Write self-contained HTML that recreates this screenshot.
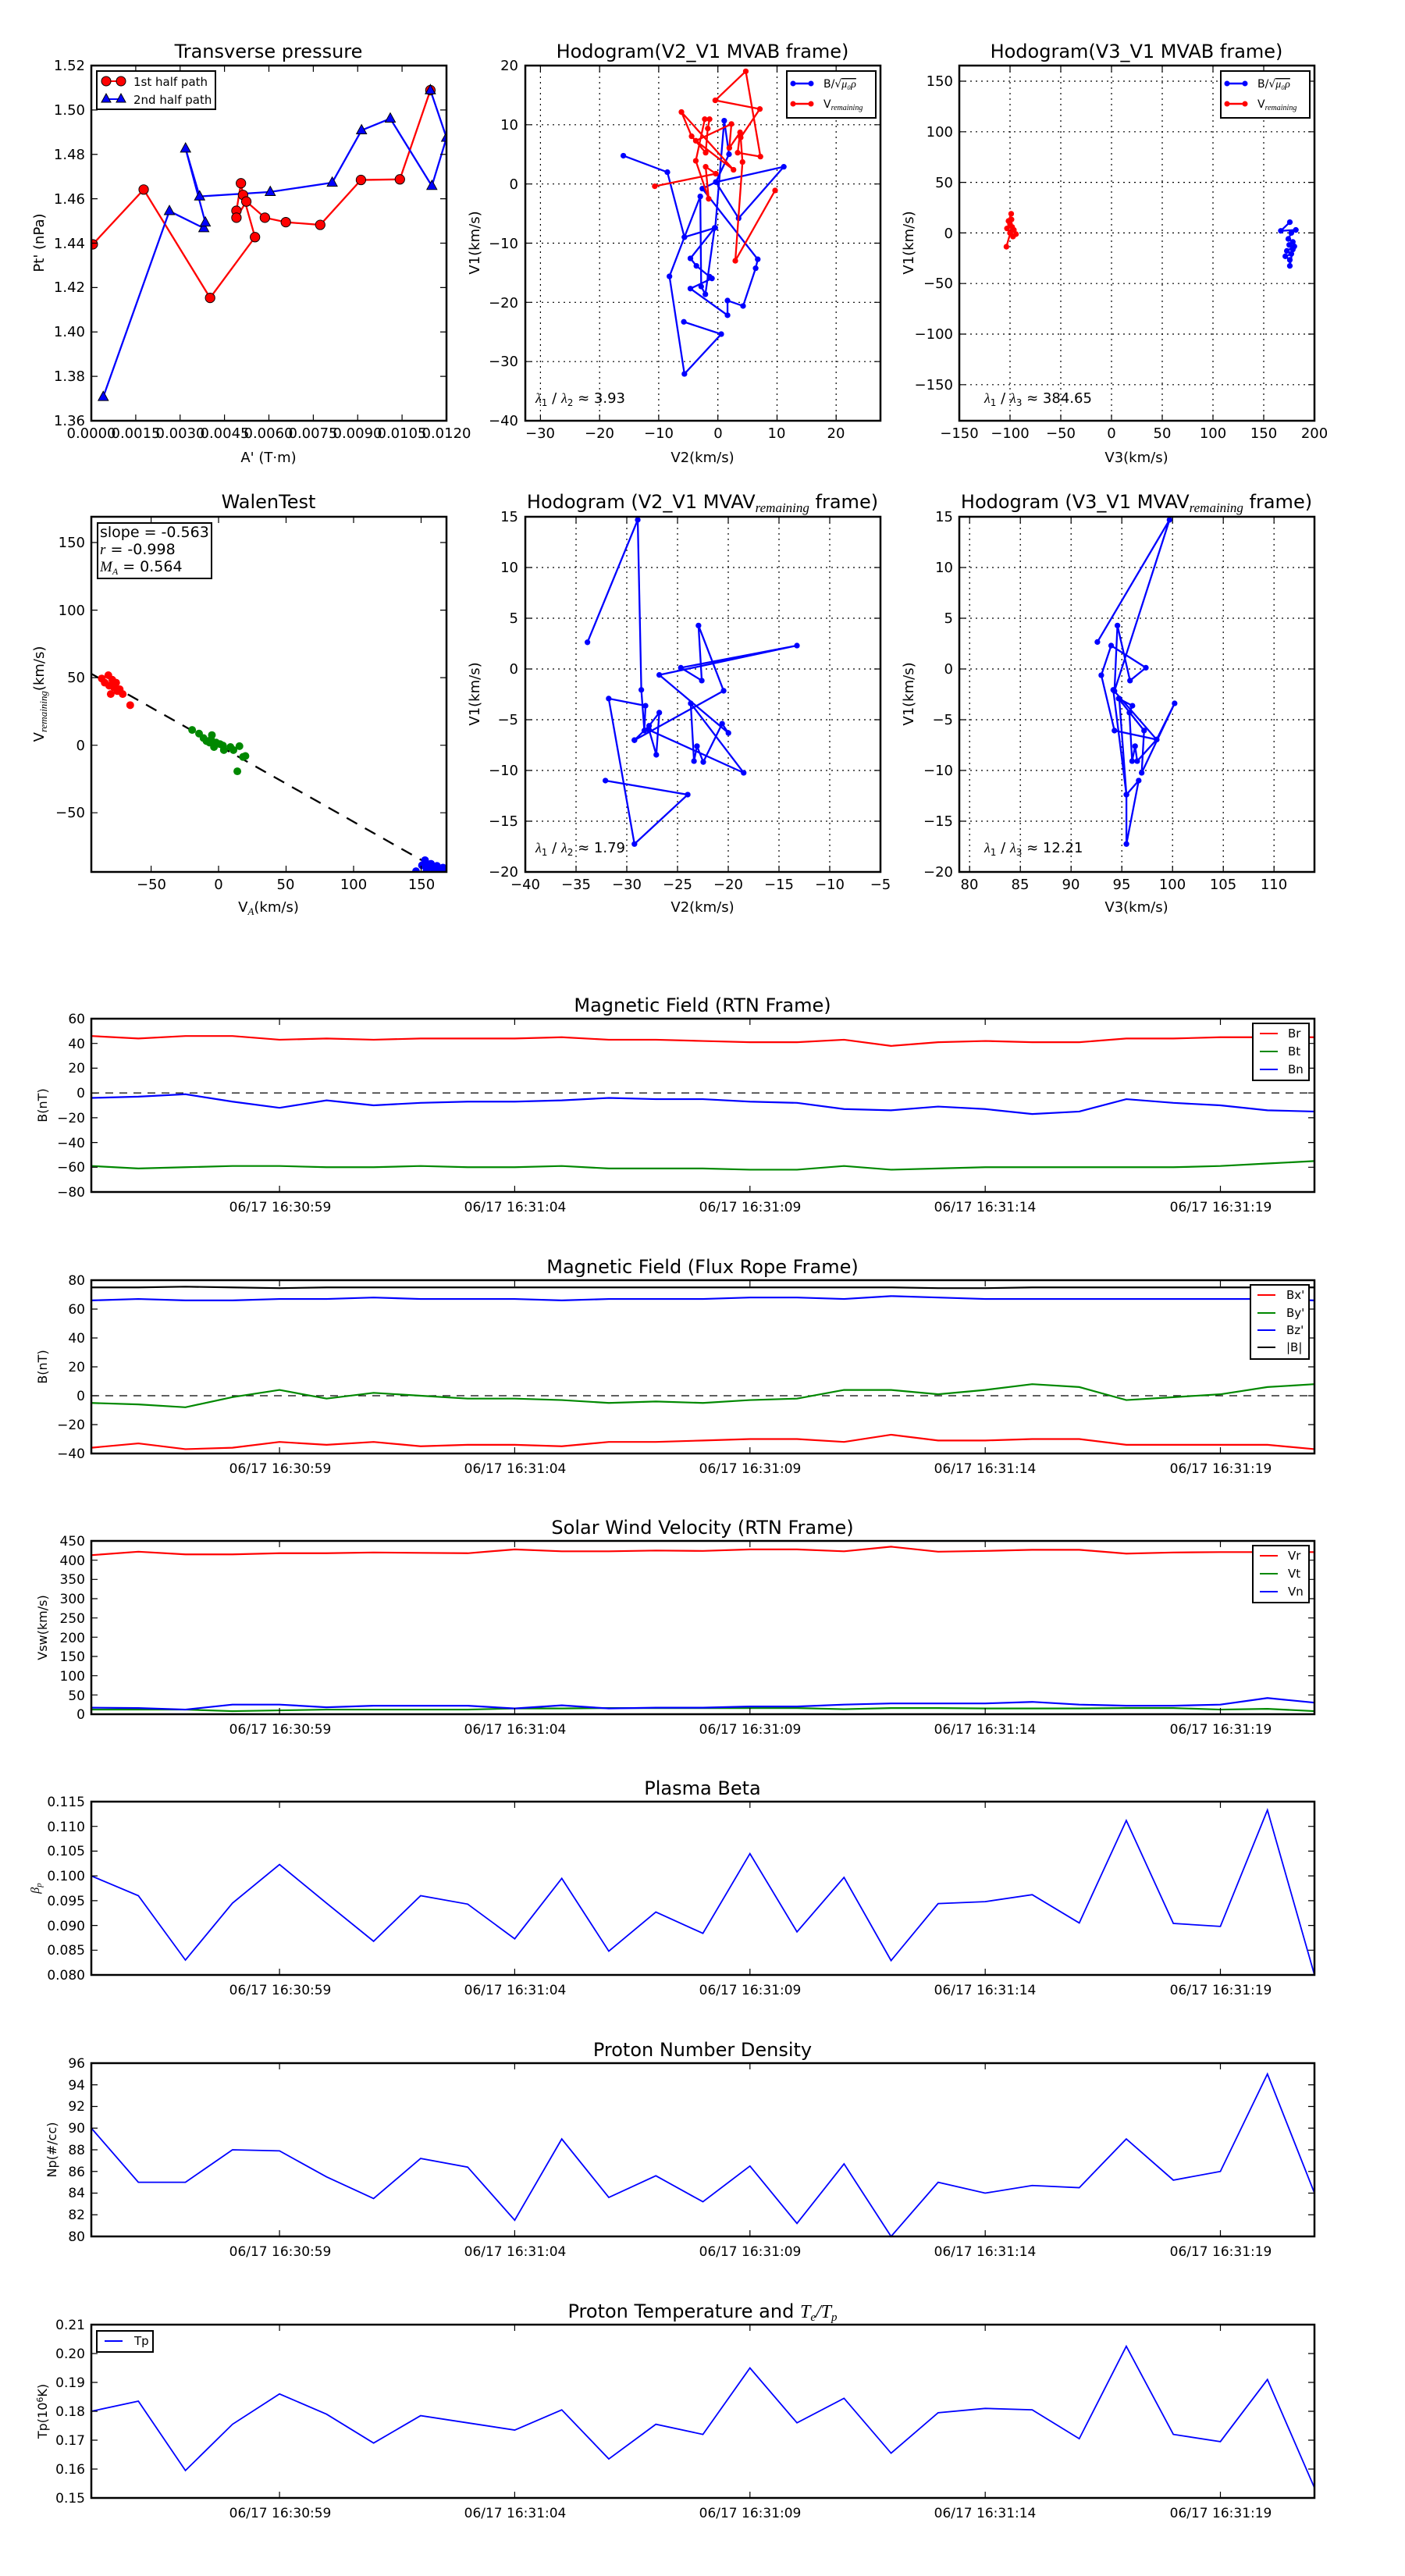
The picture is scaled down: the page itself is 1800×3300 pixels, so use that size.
<!DOCTYPE html>
<html><head><meta charset="utf-8"><style>
html,body{margin:0;padding:0;background:#fff;}
svg{display:block;font-family:"DejaVu Sans","Liberation Sans",sans-serif;}
.ns{vector-effect:non-scaling-stroke;}
</style></head><body>
<svg xmlns="http://www.w3.org/2000/svg" width="1800" height="3300" viewBox="0 0 1800 3300">
<rect width="1800" height="3300" fill="#fff"/>
<defs>
<clipPath id="c1"><rect x="117" y="84" width="455" height="455"/></clipPath>
<clipPath id="c2"><rect x="673" y="84" width="455" height="455"/></clipPath>
<clipPath id="c3"><rect x="1229" y="84" width="455" height="455"/></clipPath>
<clipPath id="c4"><rect x="117" y="662" width="455" height="455"/></clipPath>
<clipPath id="c5"><rect x="673" y="662" width="455" height="455"/></clipPath>
<clipPath id="c6"><rect x="1229" y="662" width="455" height="455"/></clipPath>
<marker id="mb" markerWidth="24" markerHeight="24" refX="12" refY="12" markerUnits="userSpaceOnUse"><circle cx="12" cy="12" r="9.5" fill="#00f"/></marker>
<marker id="mr" markerWidth="24" markerHeight="24" refX="12" refY="12" markerUnits="userSpaceOnUse"><circle cx="12" cy="12" r="9.5" fill="#f00"/></marker>
<marker id="mt" markerWidth="44" markerHeight="44" refX="22" refY="24" markerUnits="userSpaceOnUse"><polygon points="22,5 5,36 39,36" fill="#00f" stroke="#000" stroke-width="2.5"/></marker>
</defs>

<!-- grids -->
<g fill="none" stroke="#000" stroke-width="1.2" stroke-dasharray="2,5">
<path d="M692.4 84V539M768.2 84V539M843.9 84V539M919.7 84V539M995.5 84V539M1071.2 84V539M673 159.8H1128M673 235.7H1128M673 311.5H1128M673 387.3H1128M673 463.2H1128"/>
<path d="M1294 84V539M1359 84V539M1424 84V539M1489 84V539M1554 84V539M1619 84V539M1229 104H1684M1229 168.8H1684M1229 233.6H1684M1229 298.4H1684M1229 363.2H1684M1229 428H1684M1229 492.8H1684"/>
<path d="M738 662V1117M803 662V1117M868 662V1117M933 662V1117M998 662V1117M1063 662V1117M673 727H1128M673 792H1128M673 857H1128M673 922H1128M673 987H1128M673 1052H1128"/>
<path d="M1242.2 662V1117M1307.2 662V1117M1372.2 662V1117M1437.2 662V1117M1502.2 662V1117M1567.2 662V1117M1632.2 662V1117M1229 727H1684M1229 792H1684M1229 857H1684M1229 922H1684M1229 987H1684M1229 1052H1684"/>
</g>

<!-- Panel 1 -->
<g clip-path="url(#c1)"><g transform="translate(0,30) scale(0.38344)">
<polyline fill="none" stroke="#f00" stroke-width="6" points="310,738 480,555 702,917 852,714 812,573 805,534 790,626 790,649 823,595 885,649 955,664 1070,673 1206,523 1336,521 1438,223"/>
<polyline fill="none" stroke="#00f" stroke-width="6" marker-start="url(#mt)" marker-mid="url(#mt)" marker-end="url(#mt)" points="345,1248 566,627 681,684 686,665 620,418 667,578 903,563 1110,532 1208,357 1304,318 1443,543 1492,382 1438,223"/>
<g fill="#f00" stroke="#000" stroke-width="2.5">
<circle cx="310" cy="738" r="16"/><circle cx="480" cy="555" r="16"/><circle cx="702" cy="917" r="16"/><circle cx="852" cy="714" r="16"/><circle cx="812" cy="573" r="16"/><circle cx="805" cy="534" r="16"/><circle cx="790" cy="626" r="16"/><circle cx="790" cy="649" r="16"/><circle cx="823" cy="595" r="16"/><circle cx="885" cy="649" r="16"/><circle cx="955" cy="664" r="16"/><circle cx="1070" cy="673" r="16"/><circle cx="1206" cy="523" r="16"/><circle cx="1336" cy="521" r="16"/><circle cx="1438" cy="223" r="16"/></g>
<polygon points="1438,205 1422,235 1454,235" fill="#00f" stroke="#000" stroke-width="2.5"/>
</g></g>

<!-- Panel 2 -->
<g clip-path="url(#c2)"><g transform="translate(600,30) scale(0.38344)">
<polyline fill="none" stroke="#00f" stroke-width="6" marker-start="url(#mb)" marker-mid="url(#mb)" marker-end="url(#mb)" points="518,442 665,497 722,714 775,578 778,879 792,905 823,683 742,785 762,810 806,846 814,852 742,886 866,975 866,926 918,944 960,818 967,788 782,552 827,530 1054,479 903,651 827,530 871,437 855,325 825,683 722,714 672,845 722,1171 845,1038 720,997"/>
<polyline fill="none" stroke="#f00" stroke-width="6" marker-start="url(#mr)" marker-mid="url(#mr)" marker-end="url(#mr)" points="623,544 827,502 793,479 803,586 760,459 790,320 806,320 800,351 793,432 746,377 712,296 886,489 760,392 879,336 872,416 908,364 900,432 976,445 927,160 825,257 974,286 910,381 916,463 892,793 1025,558"/>
</g></g>

<!-- Panel 3 -->
<g clip-path="url(#c3)"><g transform="translate(1200,30) scale(0.38344)">
<polyline fill="none" stroke="#f00" stroke-width="6" marker-start="url(#mr)" marker-mid="url(#mr)" marker-end="url(#mr)" points="249,636 240,660 250,655 235,685 245,700 258,690 265,704 255,712 245,670 252,680 233,746"/>
<polyline fill="none" stroke="#00f" stroke-width="6" marker-start="url(#mb)" marker-mid="url(#mb)" marker-end="url(#mb)" points="1180,664 1150,693 1200,690 1185,700 1175,720 1190,730 1195,745 1170,760 1185,770 1165,778 1180,790 1180,810 1190,755 1178,740"/>
</g></g>

<!-- Walen -->
<g clip-path="url(#c4)"><g transform="translate(0,610) scale(0.38344)">
<line x1="305" y1="660" x2="1492" y2="1330" stroke="#000" stroke-width="6" stroke-dasharray="40,30"/>
<g fill="#f00"><circle cx="340" cy="676" r="13"/><circle cx="362" cy="665" r="13"/><circle cx="375" cy="680" r="13"/><circle cx="388" cy="690" r="13"/><circle cx="380" cy="705" r="13"/><circle cx="400" cy="712" r="13"/><circle cx="370" cy="728" r="13"/><circle cx="410" cy="728" r="13"/><circle cx="392" cy="718" r="13"/><circle cx="350" cy="690" r="13"/><circle cx="435" cy="765" r="13"/><circle cx="365" cy="700" r="13"/></g>
<g fill="#080"><circle cx="642" cy="848" r="13"/><circle cx="665" cy="860" r="13"/><circle cx="680" cy="875" r="13"/><circle cx="708" cy="865" r="13"/><circle cx="700" cy="890" r="13"/><circle cx="715" cy="905" r="13"/><circle cx="745" cy="900" r="13"/><circle cx="748" cy="915" r="13"/><circle cx="770" cy="905" r="13"/><circle cx="800" cy="902" r="13"/><circle cx="820" cy="935" r="13"/><circle cx="812" cy="938" r="13"/><circle cx="793" cy="986" r="13"/><circle cx="722" cy="890" r="13"/><circle cx="690" cy="885" r="13"/><circle cx="735" cy="895" r="13"/><circle cx="780" cy="915" r="13"/><circle cx="705" cy="880" r="13"/></g>
<g fill="#00f"><circle cx="1420" cy="1283" r="13"/><circle cx="1440" cy="1295" r="13"/><circle cx="1460" cy="1302" r="13"/><circle cx="1480" cy="1308" r="13"/><circle cx="1410" cy="1300" r="13"/><circle cx="1430" cy="1305" r="13"/><circle cx="1390" cy="1320" r="13"/><circle cx="1450" cy="1315" r="13"/><circle cx="1490" cy="1310" r="13"/><circle cx="1425" cy="1318" r="13"/><circle cx="1470" cy="1320" r="13"/></g>
</g></g>

<!-- Row2 P2 -->
<g clip-path="url(#c5)"><g transform="translate(600,610) scale(0.38344)">
<polyline fill="none" stroke="#00f" stroke-width="6" marker-start="url(#mb)" marker-mid="url(#mb)" marker-end="url(#mb)" points="398,555 566,146 578,714 588,850 592,767 469,743 555,1229 733,1064 458,1017"/>
<polyline fill="none" stroke="#00f" stroke-width="6" marker-start="url(#mb)" marker-mid="url(#mb)" marker-end="url(#mb)" points="555,882 604,834 638,790 628,931 604,848 920,991 743,759 754,952 764,902 785,955 848,827 869,858 638,664 1098,566 710,640 780,683 769,499 853,717 555,882"/>
</g></g>

<!-- Row2 P3 -->
<g clip-path="url(#c6)"><g transform="translate(1200,610) scale(0.38344)">
<polyline fill="none" stroke="#00f" stroke-width="6" marker-start="url(#mb)" marker-mid="url(#mb)" marker-end="url(#mb)" points="537,554 778,146 594,718 604,499 646,683 699,640 583,566 550,665 594,850 735,880 795,759 685,991 693,850 608,743 654,767 644,790 653,952 663,902 670,952 735,880 590,714 634,1064 675,1017 634,1229 634,1064 610,743"/>
</g></g>

<!-- top ticks and frames -->
<g fill="none" stroke="#000" stroke-width="1.2">
<path d="M173.9 539v-8M230.75 539v-8M287.6 539v-8M344.5 539v-8M401.4 539v-8M458.25 539v-8M515.1 539v-8M173.9 84v8M230.75 84v8M287.6 84v8M344.5 84v8M401.4 84v8M458.25 84v8M515.1 84v8M117 140.9h8M117 197.75h8M117 254.6h8M117 311.5h8M117 368.4h8M117 425.25h8M117 482.1h8M572 140.9h-8M572 197.75h-8M572 254.6h-8M572 311.5h-8M572 368.4h-8M572 425.25h-8M572 482.1h-8"/>
<path d="M692.4 539v-8M768.2 539v-8M843.9 539v-8M919.7 539v-8M995.5 539v-8M1071.2 539v-8M692.4 84v8M768.2 84v8M843.9 84v8M919.7 84v8M995.5 84v8M1071.2 84v8M673 159.8h8M673 235.7h8M673 311.5h8M673 387.3h8M673 463.2h8M1128 159.8h-8M1128 235.7h-8M1128 311.5h-8M1128 387.3h-8M1128 463.2h-8"/>
<path d="M1294 539v-8M1359 539v-8M1424 539v-8M1489 539v-8M1554 539v-8M1619 539v-8M1294 84v8M1359 84v8M1424 84v8M1489 84v8M1554 84v8M1619 84v8M1229 104h8M1229 168.8h8M1229 233.6h8M1229 298.4h8M1229 363.2h8M1229 428h8M1229 492.8h8M1684 104h-8M1684 168.8h-8M1684 233.6h-8M1684 298.4h-8M1684 363.2h-8M1684 428h-8M1684 492.8h-8"/>
<path d="M193.6 1117v-8M280 1117v-8M366.5 1117v-8M453 1117v-8M539.5 1117v-8M193.6 662v8M280 662v8M366.5 662v8M453 662v8M539.5 662v8M117 695h8M117 781.6h8M117 868.1h8M117 954.7h8M117 1041.2h8M572 695h-8M572 781.6h-8M572 868.1h-8M572 954.7h-8M572 1041.2h-8"/>
<path d="M738 1117v-8M803 1117v-8M868 1117v-8M933 1117v-8M998 1117v-8M1063 1117v-8M738 662v8M803 662v8M868 662v8M933 662v8M998 662v8M1063 662v8M673 727h8M673 792h8M673 857h8M673 922h8M673 987h8M673 1052h8M1128 727h-8M1128 792h-8M1128 857h-8M1128 922h-8M1128 987h-8M1128 1052h-8"/>
<path d="M1242.2 1117v-8M1307.2 1117v-8M1372.2 1117v-8M1437.2 1117v-8M1502.2 1117v-8M1567.2 1117v-8M1632.2 1117v-8M1242.2 662v8M1307.2 662v8M1372.2 662v8M1437.2 662v8M1502.2 662v8M1567.2 662v8M1632.2 662v8M1229 727h8M1229 792h8M1229 857h8M1229 922h8M1229 987h8M1229 1052h8M1684 727h-8M1684 792h-8M1684 857h-8M1684 922h-8M1684 987h-8M1684 1052h-8"/>
</g>
<g fill="none" stroke="#000" stroke-width="2.5">
<rect x="117" y="84" width="455" height="455"/><rect x="673" y="84" width="455" height="455"/><rect x="1229" y="84" width="455" height="455"/>
<rect x="117" y="662" width="455" height="455"/><rect x="673" y="662" width="455" height="455"/><rect x="1229" y="662" width="455" height="455"/>
</g>

<!-- Top row text -->
<g font-size="24" text-anchor="middle" fill="#000">
<text x="344" y="74">Transverse pressure</text>
<text x="900" y="74">Hodogram(V2_V1 MVAB frame)</text>
<text x="1456" y="74">Hodogram(V3_V1 MVAB frame)</text>
<text x="344" y="651">WalenTest</text>
<text x="900" y="651">Hodogram (V2_V1 MVAV<tspan font-family="Liberation Serif" font-style="italic" font-size="17" dy="5">remaining</tspan><tspan dy="-5"> frame)</tspan></text>
<text x="1456" y="651">Hodogram (V3_V1 MVAV<tspan font-family="Liberation Serif" font-style="italic" font-size="17" dy="5">remaining</tspan><tspan dy="-5"> frame)</tspan></text>
</g>
<g font-size="18" fill="#000">
<g text-anchor="end">
<text x="109" y="90">1.52</text><text x="109" y="147">1.50</text><text x="109" y="204">1.48</text><text x="109" y="261">1.46</text><text x="109" y="318">1.44</text><text x="109" y="374">1.42</text><text x="109" y="431">1.40</text><text x="109" y="488">1.38</text><text x="109" y="545">1.36</text>
<text x="664" y="90">20</text><text x="664" y="166">10</text><text x="664" y="242">0</text><text x="664" y="318">−10</text><text x="664" y="394">−20</text><text x="664" y="469">−30</text><text x="664" y="545">−40</text>
<text x="1221" y="110">150</text><text x="1221" y="175">100</text><text x="1221" y="240">50</text><text x="1221" y="305">0</text><text x="1221" y="369">−50</text><text x="1221" y="434">−100</text><text x="1221" y="499">−150</text>
<text x="109" y="701">150</text><text x="109" y="788">100</text><text x="109" y="874">50</text><text x="109" y="961">0</text><text x="109" y="1047">−50</text>
<text x="664" y="668">15</text><text x="664" y="733">10</text><text x="664" y="798">5</text><text x="664" y="863">0</text><text x="664" y="928">−5</text><text x="664" y="993">−10</text><text x="664" y="1058">−15</text><text x="664" y="1123">−20</text>
<text x="1221" y="668">15</text><text x="1221" y="733">10</text><text x="1221" y="798">5</text><text x="1221" y="863">0</text><text x="1221" y="928">−5</text><text x="1221" y="993">−10</text><text x="1221" y="1058">−15</text><text x="1221" y="1123">−20</text>
</g>
<g text-anchor="middle">
<text x="117" y="561">0.0000</text><text x="174" y="561">0.0015</text><text x="231" y="561">0.0030</text><text x="288" y="561">0.0045</text><text x="344" y="561">0.0060</text><text x="401" y="561">0.0075</text><text x="458" y="561">0.0090</text><text x="515" y="561">0.0105</text><text x="572" y="561">0.0120</text>
<text x="692" y="561">−30</text><text x="768" y="561">−20</text><text x="844" y="561">−10</text><text x="920" y="561">0</text><text x="995" y="561">10</text><text x="1071" y="561">20</text>
<text x="1229" y="561">−150</text><text x="1294" y="561">−100</text><text x="1359" y="561">−50</text><text x="1424" y="561">0</text><text x="1489" y="561">50</text><text x="1554" y="561">100</text><text x="1619" y="561">150</text><text x="1684" y="561">200</text>
<text x="194" y="1139">−50</text><text x="280" y="1139">0</text><text x="366" y="1139">50</text><text x="453" y="1139">100</text><text x="540" y="1139">150</text>
<text x="673" y="1139">−40</text><text x="738" y="1139">−35</text><text x="803" y="1139">−30</text><text x="868" y="1139">−25</text><text x="933" y="1139">−20</text><text x="998" y="1139">−15</text><text x="1063" y="1139">−10</text><text x="1128" y="1139">−5</text>
<text x="1242" y="1139">80</text><text x="1307" y="1139">85</text><text x="1372" y="1139">90</text><text x="1437" y="1139">95</text><text x="1502" y="1139">100</text><text x="1567" y="1139">105</text><text x="1632" y="1139">110</text>
<text x="344" y="592">A' (T·m)</text><text x="900" y="592">V2(km/s)</text><text x="1456" y="592">V3(km/s)</text>
<text x="344" y="1168">V<tspan font-family="Liberation Serif" font-style="italic" font-size="13" dy="4">A</tspan><tspan dy="-4">(km/s)</tspan></text>
<text x="900" y="1168">V2(km/s)</text><text x="1456" y="1168">V3(km/s)</text>
</g>
<text transform="translate(56,311) rotate(-90)" text-anchor="middle">Pt' (nPa)</text>
<text transform="translate(614,311) rotate(-90)" text-anchor="middle">V1(km/s)</text>
<text transform="translate(1170,311) rotate(-90)" text-anchor="middle">V1(km/s)</text>
<text transform="translate(56,889) rotate(-90)" text-anchor="middle">V<tspan font-family="Liberation Serif" font-style="italic" font-size="13" dy="4">remaining</tspan><tspan dy="-4">(km/s)</tspan></text>
<text transform="translate(614,889) rotate(-90)" text-anchor="middle">V1(km/s)</text>
<text transform="translate(1170,889) rotate(-90)" text-anchor="middle">V1(km/s)</text>
<text x="686" y="516"><tspan font-family="Liberation Serif" font-style="italic">λ</tspan><tspan font-size="12" dy="4">1</tspan><tspan dy="-4"> / </tspan><tspan font-family="Liberation Serif" font-style="italic">λ</tspan><tspan font-size="12" dy="4">2</tspan><tspan dy="-4"> ≈ 3.93</tspan></text>
<text x="1261" y="516"><tspan font-family="Liberation Serif" font-style="italic">λ</tspan><tspan font-size="12" dy="4">1</tspan><tspan dy="-4"> / </tspan><tspan font-family="Liberation Serif" font-style="italic">λ</tspan><tspan font-size="12" dy="4">3</tspan><tspan dy="-4"> ≈ 384.65</tspan></text>
<text x="686" y="1092"><tspan font-family="Liberation Serif" font-style="italic">λ</tspan><tspan font-size="12" dy="4">1</tspan><tspan dy="-4"> / </tspan><tspan font-family="Liberation Serif" font-style="italic">λ</tspan><tspan font-size="12" dy="4">2</tspan><tspan dy="-4"> ≈ 1.79</tspan></text>
<text x="1261" y="1092"><tspan font-family="Liberation Serif" font-style="italic">λ</tspan><tspan font-size="12" dy="4">1</tspan><tspan dy="-4"> / </tspan><tspan font-family="Liberation Serif" font-style="italic">λ</tspan><tspan font-size="12" dy="4">3</tspan><tspan dy="-4"> ≈ 12.21</tspan></text>
</g>

<!-- Legends top -->
<g>
<rect x="124" y="91" width="152" height="49" fill="#fff" stroke="#000" stroke-width="2"/>
<line x1="136" y1="104" x2="155" y2="104" stroke="#f00" stroke-width="2"/>
<circle cx="136" cy="104" r="6" fill="#f00" stroke="#000"/><circle cx="155" cy="104" r="6" fill="#f00" stroke="#000"/>
<line x1="136" y1="127" x2="155" y2="127" stroke="#00f" stroke-width="2"/>
<polygon points="136,120 130,131 142,131" fill="#00f" stroke="#000"/><polygon points="155,120 149,131 161,131" fill="#00f" stroke="#000"/>
<text x="171" y="110" font-size="15">1st half path</text><text x="171" y="133" font-size="15">2nd half path</text>
<rect x="1008" y="91" width="114" height="60" fill="#fff" stroke="#000" stroke-width="2"/>
<line x1="1016" y1="107" x2="1039" y2="107" stroke="#00f" stroke-width="2.5"/><circle cx="1016" cy="107" r="3.5" fill="#00f"/><circle cx="1039" cy="107" r="3.5" fill="#00f"/>
<line x1="1016" y1="133" x2="1039" y2="133" stroke="#f00" stroke-width="2.5"/><circle cx="1016" cy="133" r="3.5" fill="#f00"/><circle cx="1039" cy="133" r="3.5" fill="#f00"/>
<text x="1055" y="112" font-size="14">B/√<tspan font-family="Liberation Serif" font-style="italic" text-decoration="overline">μ₀ρ</tspan></text>
<text x="1055" y="138" font-size="14">V<tspan font-family="Liberation Serif" font-style="italic" font-size="10" dy="3">remaining</tspan></text>
<rect x="1564" y="91" width="114" height="60" fill="#fff" stroke="#000" stroke-width="2"/>
<line x1="1572" y1="107" x2="1595" y2="107" stroke="#00f" stroke-width="2.5"/><circle cx="1572" cy="107" r="3.5" fill="#00f"/><circle cx="1595" cy="107" r="3.5" fill="#00f"/>
<line x1="1572" y1="133" x2="1595" y2="133" stroke="#f00" stroke-width="2.5"/><circle cx="1572" cy="133" r="3.5" fill="#f00"/><circle cx="1595" cy="133" r="3.5" fill="#f00"/>
<text x="1611" y="112" font-size="14">B/√<tspan font-family="Liberation Serif" font-style="italic" text-decoration="overline">μ₀ρ</tspan></text>
<text x="1611" y="138" font-size="14">V<tspan font-family="Liberation Serif" font-style="italic" font-size="10" dy="3">remaining</tspan></text>
<rect x="125" y="670" width="146" height="71" fill="#fff" stroke="#000" stroke-width="2"/>
<text x="128" y="688" font-size="19">slope = -0.563</text>
<text x="128" y="710" font-size="19"><tspan font-family="Liberation Serif" font-style="italic">r</tspan> = -0.998</text>
<text x="128" y="732" font-size="19"><tspan font-family="Liberation Serif" font-style="italic">M<tspan font-size="12" dy="4">A</tspan></tspan><tspan dy="-4"> = 0.564</tspan></text>
</g>

<!-- ===== Panel MF RTN ===== -->
<g>
<line x1="117" y1="1400.1" x2="1684" y2="1400.1" stroke="#000" stroke-width="1.2" stroke-dasharray="10,8"/>
<g fill="none" stroke-width="2.2" transform="translate(117,1305) scale(60.27,-1.585714) translate(0,-60)">
<polyline class="ns" stroke="#f00" points="0,46 1,44 2,46 3,46 4,43 5,44 6,43 7,44 8,44 9,44 10,45 11,43 12,43 13,42 14,41 15,41 16,43 17,38 18,41 19,42 20,41 21,41 22,44 23,44 24,45 25,45 26,45"/>
<polyline class="ns" stroke="#080" points="0,-59 1,-61 2,-60 3,-59 4,-59 5,-60 6,-60 7,-59 8,-60 9,-60 10,-59 11,-61 12,-61 13,-61 14,-62 15,-62 16,-59 17,-62 18,-61 19,-60 20,-60 21,-60 22,-60 23,-60 24,-59 25,-57 26,-55"/>
<polyline class="ns" stroke="#00f" points="0,-4 1,-3 2,-1 3,-7 4,-12 5,-6 6,-10 7,-8 8,-7 9,-7 10,-6 11,-4 12,-5 13,-5 14,-7 15,-8 16,-13 17,-14 18,-11 19,-13 20,-17 21,-15 22,-5 23,-8 24,-10 25,-14 26,-15"/>
</g>
<path fill="none" stroke="#000" stroke-width="1.2" d="M358.1 1527v-8M659.4 1527v-8M960.8 1527v-8M1262.2 1527v-8M1563.5 1527v-8M358.1 1305v8M659.4 1305v8M960.8 1305v8M1262.2 1305v8M1563.5 1305v8M117 1336.7h8M117 1368.4h8M117 1400.1h8M117 1431.9h8M117 1463.6h8M117 1495.3h8M1684 1336.7h-8M1684 1368.4h-8M1684 1400.1h-8M1684 1431.9h-8M1684 1463.6h-8M1684 1495.3h-8"/>
<rect x="117" y="1305" width="1567" height="222" fill="none" stroke="#000" stroke-width="2.5"/>
<text x="900" y="1296" font-size="24" text-anchor="middle">Magnetic Field (RTN Frame)</text>
<g font-size="17" text-anchor="end"><text x="109" y="1311">60</text><text x="109" y="1343">40</text><text x="109" y="1374">20</text><text x="109" y="1406">0</text><text x="109" y="1438">−20</text><text x="109" y="1470">−40</text><text x="109" y="1501">−60</text><text x="109" y="1533">−80</text></g>
<g font-size="17" text-anchor="middle"><text x="359" y="1552">06/17 16:30:59</text><text x="660" y="1552">06/17 16:31:04</text><text x="961" y="1552">06/17 16:31:09</text><text x="1262" y="1552">06/17 16:31:14</text><text x="1564" y="1552">06/17 16:31:19</text>
<text transform="translate(60,1416) rotate(-90)" font-size="16">B(nT)</text></g>
<g font-size="15"><rect x="1605" y="1311" width="72" height="73" fill="#fff" stroke="#000" stroke-width="2"/>
<line x1="1614" y1="1324" x2="1637" y2="1324" stroke="#f00" stroke-width="2"/><text x="1650" y="1329">Br</text>
<line x1="1614" y1="1347" x2="1637" y2="1347" stroke="#080" stroke-width="2"/><text x="1650" y="1352">Bt</text>
<line x1="1614" y1="1370" x2="1637" y2="1370" stroke="#00f" stroke-width="2"/><text x="1650" y="1375">Bn</text></g>
</g>

<!-- ===== Panel Flux ===== -->
<g>
<line x1="117" y1="1788" x2="1684" y2="1788" stroke="#000" stroke-width="1.2" stroke-dasharray="10,8"/>
<g fill="none" stroke-width="2.2" transform="translate(117,1640) scale(60.27,-1.85) translate(0,-80)">
<polyline class="ns" stroke="#000" points="0,75 1,75 2,75.5 3,75 4,74.5 5,75 6,75 7,75 8,75 9,75 10,75 11,75 12,75 13,75 14,75 15,75 16,75 17,75 18,74.5 19,74.5 20,75 21,75 22,75 23,75 24,75 25,75 26,75"/>
<polyline class="ns" stroke="#00f" points="0,66 1,67 2,66 3,66 4,67 5,67 6,68 7,67 8,67 9,67 10,66 11,67 12,67 13,67 14,68 15,68 16,67 17,69 18,68 19,67 20,67 21,67 22,67 23,67 24,67 25,67 26,66"/>
<polyline class="ns" stroke="#080" points="0,-5 1,-6 2,-8 3,-1 4,4 5,-2 6,2 7,0 8,-2 9,-2 10,-3 11,-5 12,-4 13,-5 14,-3 15,-2 16,4 17,4 18,1 19,4 20,8 21,6 22,-3 23,-1 24,1 25,6 26,8"/>
<polyline class="ns" stroke="#f00" points="0,-36 1,-33 2,-37 3,-36 4,-32 5,-34 6,-32 7,-35 8,-34 9,-34 10,-35 11,-32 12,-32 13,-31 14,-30 15,-30 16,-32 17,-27 18,-31 19,-31 20,-30 21,-30 22,-34 23,-34 24,-34 25,-34 26,-37"/>
</g>
<path fill="none" stroke="#000" stroke-width="1.2" d="M358.1 1862v-8M659.4 1862v-8M960.8 1862v-8M1262.2 1862v-8M1563.5 1862v-8M358.1 1640v8M659.4 1640v8M960.8 1640v8M1262.2 1640v8M1563.5 1640v8M117 1677h8M117 1714h8M117 1751h8M117 1788h8M117 1825h8M1684 1677h-8M1684 1714h-8M1684 1751h-8M1684 1788h-8M1684 1825h-8"/>
<rect x="117" y="1640" width="1567" height="222" fill="none" stroke="#000" stroke-width="2.5"/>
<text x="900" y="1631" font-size="24" text-anchor="middle">Magnetic Field (Flux Rope Frame)</text>
<g font-size="17" text-anchor="end"><text x="109" y="1646">80</text><text x="109" y="1683">60</text><text x="109" y="1720">40</text><text x="109" y="1757">20</text><text x="109" y="1794">0</text><text x="109" y="1831">−20</text><text x="109" y="1868">−40</text></g>
<g font-size="17" text-anchor="middle"><text x="359" y="1887">06/17 16:30:59</text><text x="660" y="1887">06/17 16:31:04</text><text x="961" y="1887">06/17 16:31:09</text><text x="1262" y="1887">06/17 16:31:14</text><text x="1564" y="1887">06/17 16:31:19</text>
<text transform="translate(60,1751) rotate(-90)" font-size="16">B(nT)</text></g>
<g font-size="15"><rect x="1602" y="1646" width="75" height="95" fill="#fff" stroke="#000" stroke-width="2"/>
<line x1="1611" y1="1659" x2="1634" y2="1659" stroke="#f00" stroke-width="2"/><text x="1648" y="1664">Bx'</text>
<line x1="1611" y1="1682" x2="1634" y2="1682" stroke="#080" stroke-width="2"/><text x="1648" y="1687">By'</text>
<line x1="1611" y1="1704" x2="1634" y2="1704" stroke="#00f" stroke-width="2"/><text x="1648" y="1709">Bz'</text>
<line x1="1611" y1="1726" x2="1634" y2="1726" stroke="#000" stroke-width="2"/><text x="1648" y="1731">|B|</text></g>
</g>

<!-- ===== Panel SW ===== -->
<g transform="translate(0,-3)">
<g fill="none" stroke-width="2.2" transform="translate(117,1977) scale(60.27,-0.493333) translate(0,-450)">
<polyline class="ns" stroke="#f00" points="0,413 1,422 2,415 3,415 4,418 5,418 6,420 7,419 8,418 9,428 10,423 11,423 12,425 13,424 14,428 15,428 16,423 17,435 18,422 19,424 20,427 21,427 22,417 23,420 24,421 25,421 26,421"/>
<polyline class="ns" stroke="#080" points="0,12 1,12 2,12 3,8 4,10 5,12 6,12 7,12 8,12 9,15 10,15 11,16 12,16 13,16 14,16 15,16 16,13 17,16 18,16 19,15 20,15 21,15 22,16 23,16 24,12 25,14 26,8"/>
<polyline class="ns" stroke="#00f" points="0,17 1,16 2,12 3,25 4,25 5,18 6,22 7,22 8,22 9,15 10,23 11,15 12,17 13,17 14,20 15,20 16,25 17,28 18,28 19,28 20,32 21,25 22,22 23,22 24,25 25,42 26,30"/>
</g>
<path fill="none" stroke="#000" stroke-width="1.2" d="M358.1 2199v-8M659.4 2199v-8M960.8 2199v-8M1262.2 2199v-8M1563.5 2199v-8M358.1 1977v8M659.4 1977v8M960.8 1977v8M1262.2 1977v8M1563.5 1977v8M117 2001.7h8M117 2026.3h8M117 2051h8M117 2075.7h8M117 2100.3h8M117 2125h8M117 2149.7h8M117 2174.3h8M1684 2001.7h-8M1684 2026.3h-8M1684 2051h-8M1684 2075.7h-8M1684 2100.3h-8M1684 2125h-8M1684 2149.7h-8M1684 2174.3h-8"/>
<rect x="117" y="1977" width="1567" height="222" fill="none" stroke="#000" stroke-width="2.5"/>
<text x="900" y="1968" font-size="24" text-anchor="middle">Solar Wind Velocity (RTN Frame)</text>
<g font-size="17" text-anchor="end"><text x="109" y="1983">450</text><text x="109" y="2008">400</text><text x="109" y="2032">350</text><text x="109" y="2057">300</text><text x="109" y="2082">250</text><text x="109" y="2107">200</text><text x="109" y="2131">150</text><text x="109" y="2156">100</text><text x="109" y="2181">50</text><text x="109" y="2205">0</text></g>
<g font-size="17" text-anchor="middle"><text x="359" y="2224">06/17 16:30:59</text><text x="660" y="2224">06/17 16:31:04</text><text x="961" y="2224">06/17 16:31:09</text><text x="1262" y="2224">06/17 16:31:14</text><text x="1564" y="2224">06/17 16:31:19</text>
<text transform="translate(60,2088) rotate(-90)" font-size="16">Vsw(km/s)</text></g>
<g font-size="15"><rect x="1605" y="1983" width="72" height="73" fill="#fff" stroke="#000" stroke-width="2"/>
<line x1="1614" y1="1996" x2="1637" y2="1996" stroke="#f00" stroke-width="2"/><text x="1650" y="2001">Vr</text>
<line x1="1614" y1="2019" x2="1637" y2="2019" stroke="#080" stroke-width="2"/><text x="1650" y="2024">Vt</text>
<line x1="1614" y1="2042" x2="1637" y2="2042" stroke="#00f" stroke-width="2"/><text x="1650" y="2047">Vn</text></g>
</g>

<!-- ===== Panel Beta ===== -->
<g transform="translate(0,-7)">
<g fill="none" transform="translate(117,2315) scale(60.27,-6342.857) translate(0,-0.115)">
<polyline class="ns" stroke="#00f" stroke-width="1.8" points="0,0.100 1,0.096 2,0.083 3,0.0945 4,0.1023 5,0.0945 6,0.0868 7,0.096 8,0.0943 9,0.0873 10,0.0995 11,0.0848 12,0.0927 13,0.0884 14,0.1045 15,0.0887 16,0.0997 17,0.0829 18,0.0944 19,0.0948 20,0.0962 21,0.0905 22,0.1112 23,0.0904 24,0.0898 25,0.1133 26,0.080"/>
</g>
<path fill="none" stroke="#000" stroke-width="1.2" d="M358.1 2537v-8M659.4 2537v-8M960.8 2537v-8M1262.2 2537v-8M1563.5 2537v-8M358.1 2315v8M659.4 2315v8M960.8 2315v8M1262.2 2315v8M1563.5 2315v8M117 2346.7h8M117 2378.4h8M117 2410.1h8M117 2441.9h8M117 2473.6h8M117 2505.3h8M1684 2346.7h-8M1684 2378.4h-8M1684 2410.1h-8M1684 2441.9h-8M1684 2473.6h-8M1684 2505.3h-8"/>
<rect x="117" y="2315" width="1567" height="222" fill="none" stroke="#000" stroke-width="2.5"/>
<text x="900" y="2306" font-size="24" text-anchor="middle">Plasma Beta</text>
<g font-size="17" text-anchor="end"><text x="109" y="2321">0.115</text><text x="109" y="2353">0.110</text><text x="109" y="2384">0.105</text><text x="109" y="2416">0.100</text><text x="109" y="2448">0.095</text><text x="109" y="2480">0.090</text><text x="109" y="2511">0.085</text><text x="109" y="2543">0.080</text></g>
<g font-size="17" text-anchor="middle"><text x="359" y="2562">06/17 16:30:59</text><text x="660" y="2562">06/17 16:31:04</text><text x="961" y="2562">06/17 16:31:09</text><text x="1262" y="2562">06/17 16:31:14</text><text x="1564" y="2562">06/17 16:31:19</text>
<text transform="translate(50,2426) rotate(-90)" font-size="16" font-family="Liberation Serif" font-style="italic">β<tspan font-size="11" dy="3">p</tspan></text></g>
</g>

<!-- ===== Panel Np ===== -->
<g transform="translate(0,-10)">
<g fill="none" transform="translate(117,2653) scale(60.27,-13.875) translate(0,-96)">
<polyline class="ns" stroke="#00f" stroke-width="1.8" points="0,90 1,85 2,85 3,88 4,87.9 5,85.5 6,83.5 7,87.2 8,86.4 9,81.5 10,89 11,83.6 12,85.6 13,83.2 14,86.5 15,81.2 16,86.7 17,80 18,85 19,84 20,84.7 21,84.5 22,89 23,85.2 24,86 25,95 26,84"/>
</g>
<path fill="none" stroke="#000" stroke-width="1.2" d="M358.1 2875v-8M659.4 2875v-8M960.8 2875v-8M1262.2 2875v-8M1563.5 2875v-8M358.1 2653v8M659.4 2653v8M960.8 2653v8M1262.2 2653v8M1563.5 2653v8M117 2680.75h8M117 2708.5h8M117 2736.25h8M117 2764h8M117 2791.75h8M117 2819.5h8M117 2847.25h8M1684 2680.75h-8M1684 2708.5h-8M1684 2736.25h-8M1684 2764h-8M1684 2791.75h-8M1684 2819.5h-8M1684 2847.25h-8"/>
<rect x="117" y="2653" width="1567" height="222" fill="none" stroke="#000" stroke-width="2.5"/>
<text x="900" y="2644" font-size="24" text-anchor="middle">Proton Number Density</text>
<g font-size="17" text-anchor="end"><text x="109" y="2659">96</text><text x="109" y="2687">94</text><text x="109" y="2714">92</text><text x="109" y="2742">90</text><text x="109" y="2770">88</text><text x="109" y="2798">86</text><text x="109" y="2825">84</text><text x="109" y="2853">82</text><text x="109" y="2881">80</text></g>
<g font-size="17" text-anchor="middle"><text x="359" y="2900">06/17 16:30:59</text><text x="660" y="2900">06/17 16:31:04</text><text x="961" y="2900">06/17 16:31:09</text><text x="1262" y="2900">06/17 16:31:14</text><text x="1564" y="2900">06/17 16:31:19</text>
<text transform="translate(72,2764) rotate(-90)" font-size="16">Np(#/cc)</text></g>
</g>

<!-- ===== Panel Tp ===== -->
<g transform="translate(0,-13)">
<g fill="none" transform="translate(117,2991) scale(60.27,-3700) translate(0,-0.21)">
<polyline class="ns" stroke="#00f" stroke-width="1.8" points="0,0.180 1,0.1835 2,0.1595 3,0.1755 4,0.186 5,0.179 6,0.169 7,0.1785 8,0.176 9,0.1735 10,0.1805 11,0.1635 12,0.1755 13,0.172 14,0.195 15,0.176 16,0.1845 17,0.1655 18,0.1795 19,0.181 20,0.1805 21,0.1705 22,0.2025 23,0.172 24,0.1695 25,0.1910 26,0.1535"/>
</g>
<path fill="none" stroke="#000" stroke-width="1.2" d="M358.1 3213v-8M659.4 3213v-8M960.8 3213v-8M1262.2 3213v-8M1563.5 3213v-8M358.1 2991v8M659.4 2991v8M960.8 2991v8M1262.2 2991v8M1563.5 2991v8M117 3028h8M117 3065h8M117 3102h8M117 3139h8M117 3176h8M1684 3028h-8M1684 3065h-8M1684 3102h-8M1684 3139h-8M1684 3176h-8"/>
<rect x="117" y="2991" width="1567" height="222" fill="none" stroke="#000" stroke-width="2.5"/>
<text x="900" y="2982" font-size="24" text-anchor="middle">Proton Temperature and <tspan font-family="Liberation Serif" font-style="italic">T<tspan font-size="15" dy="4">e</tspan><tspan dy="-4">/T</tspan><tspan font-size="15" dy="4">p</tspan></tspan></text>
<g font-size="17" text-anchor="end"><text x="109" y="2997">0.21</text><text x="109" y="3034">0.20</text><text x="109" y="3071">0.19</text><text x="109" y="3108">0.18</text><text x="109" y="3145">0.17</text><text x="109" y="3182">0.16</text><text x="109" y="3219">0.15</text></g>
<g font-size="17" text-anchor="middle"><text x="359" y="3238">06/17 16:30:59</text><text x="660" y="3238">06/17 16:31:04</text><text x="961" y="3238">06/17 16:31:09</text><text x="1262" y="3238">06/17 16:31:14</text><text x="1564" y="3238">06/17 16:31:19</text>
<text transform="translate(60,3102) rotate(-90)" font-size="16">Tp(10<tspan font-size="11" dy="-5">6</tspan><tspan dy="5">K)</tspan></text></g>
<g font-size="15"><rect x="124" y="2999" width="72" height="27" fill="#fff" stroke="#000" stroke-width="2"/>
<line x1="134" y1="3012" x2="157" y2="3012" stroke="#00f" stroke-width="2"/><text x="172" y="3017">Tp</text></g>
</g>
</svg>
</body></html>
